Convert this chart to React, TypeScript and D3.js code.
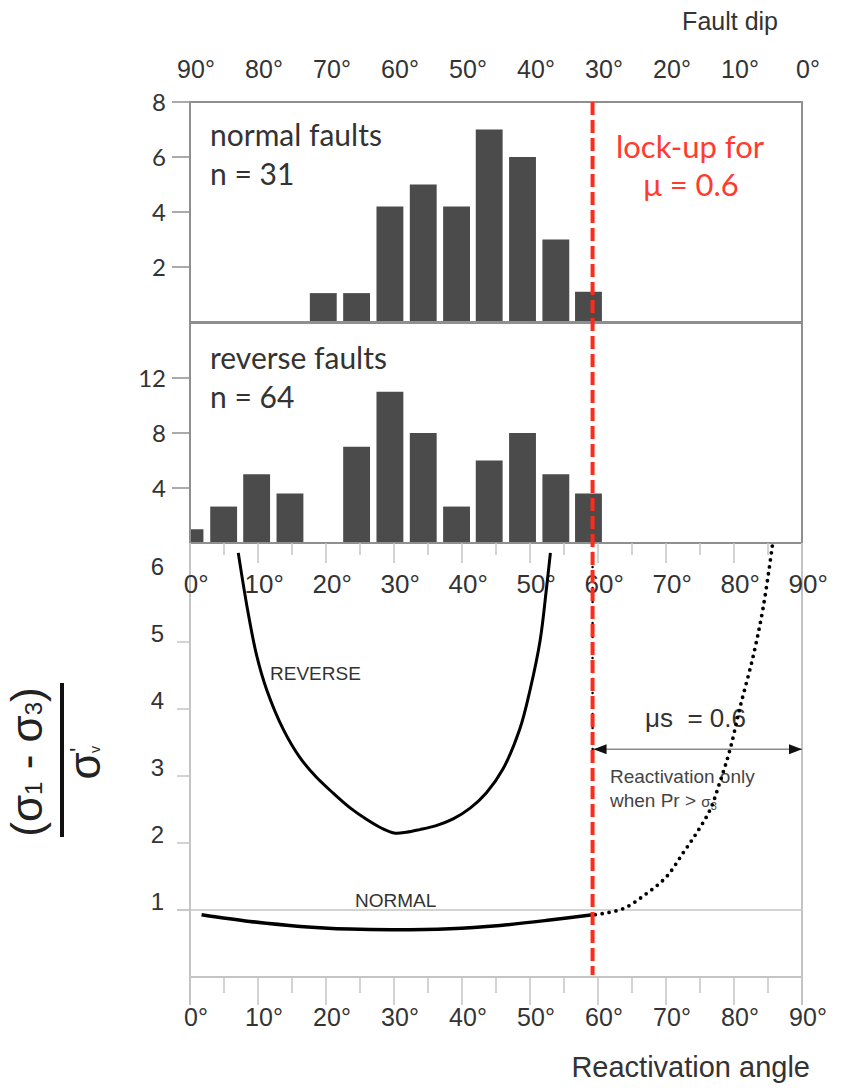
import React from "react";
import * as d3 from "d3";

// ---------- data ----------
const binCenters = [0, 4.95, 9.8, 14.7, 19.6, 24.5, 29.4, 34.3, 39.2, 44.0, 48.9, 53.8, 58.6];
const normalCounts = [0, 0, 0, 0, 1.05, 1.05, 4.2, 5, 4.2, 7, 6, 3, 1.1];
const reverseCounts = [1, 2.65, 5, 3.6, 0, 7, 11, 8, 2.65, 6, 8, 5, 3.6];
const binWidth = 3.95;

const dipTicks = [90, 80, 70, 60, 50, 40, 30, 20, 10, 0];
const angleTicks = [0, 10, 20, 30, 40, 50, 60, 70, 80, 90];
const minorAngleTicks = [5, 15, 25, 35, 45, 55, 65, 75, 85];
const normalHistTicks = [2, 4, 6, 8];
const reverseHistTicks = [4, 8, 12];
const ratioTickValues = [1, 2, 3, 4, 5];
const ratioLabelValues = [1, 2, 3, 4, 5, 6];

const reverseCurve: [number, number][] = [
  [7.1, 6.33], [8.4, 5.52], [9.8, 4.8], [11.3, 4.28], [13.7, 3.7], [16.2, 3.27],
  [18.6, 2.98], [21.1, 2.74], [23.6, 2.52], [26.0, 2.35], [28.2, 2.22], [30.0, 2.15],
  [31.8, 2.16], [33.8, 2.2], [36.2, 2.26], [38.7, 2.36], [41.2, 2.52], [43.6, 2.75],
  [46.0, 3.1], [48.5, 3.7], [50.0, 4.28], [51.5, 5.03], [52.4, 5.78], [53.0, 6.33],
];
const normalCurve: [number, number][] = [
  [1.7, 0.93], [8.8, 0.83], [16.2, 0.755], [23.5, 0.715], [30.0, 0.705], [38.2, 0.72],
  [45.6, 0.77], [52.9, 0.85], [59.2, 0.93],
];
const dottedCurve: [number, number][] = [
  [59.6, 0.93], [63.7, 1.02], [67.2, 1.25], [70.1, 1.5], [72.5, 1.85], [74.5, 2.15],
  [76.5, 2.5], [77.9, 2.9], [79.4, 3.39], [80.9, 4.03], [82.8, 4.78], [84.3, 5.52], [85.7, 6.48],
];
const lockAngle = 59.2;
const arrowLevel = 3.4;
const normalGuide = 1;

// ---------- layout ----------
const W = 846;
const H = 1088;
const ARIAL = "'Liberation Sans', Arial, Helvetica, sans-serif";
const CAL = "Lato, 'Open Sans', sans-serif";

const x = d3.scaleLinear().domain([0, 90]).range([190, 802]);
const dip = d3.scaleLinear().domain([90, 0]).range([190, 802]);
const yTop = d3.scaleLinear().domain([0, 8]).range([322, 102]);
const yMid = d3.scaleLinear().domain([0, 16]).range([543, 323]);
const yBot = d3.scaleLinear().domain([0, 6]).range([977, 575]);

function DegLabel({ px, y, val, fs }: { px: number; y: number; val: number; fs: number }) {
  const s = String(val);
  const dw = s.length * 0.556 * fs;
  return (
    <g fill="#333" fontFamily={ARIAL} fontSize={fs}>
      <text x={px + 1} y={y} textAnchor="middle">{s}</text>
      <text x={px + 1 + dw / 2} y={y}>°</text>
    </g>
  );
}

function Bars({ counts, y }: { counts: number[]; y: d3.ScaleLinear<number, number> }) {
  return (
    <g fill="#4b4b4b">
      {counts.map((c, i) => {
        if (c <= 0) return null;
        const a = Math.max(0, binCenters[i] - binWidth / 2);
        const b = binCenters[i] + binWidth / 2;
        return (
          <rect key={i} x={x(a)} y={y(c)} width={x(b) - x(a)} height={y(0) - y(c)} />
        );
      })}
    </g>
  );
}

export default function App() {
  const line = d3
    .line<[number, number]>()
    .x((d) => x(d[0]))
    .y((d) => yBot(d[1]))
    .curve(d3.curveCatmullRom.alpha(0.5));

  const xl = x(lockAngle);
  const xr = x(90);
  const ya = yBot(arrowLevel);

  return (
    <svg
      width={W}
      height={H}
      style={{ position: "absolute", left: 0, top: 0, background: "#fff" }}
    >
      {/* ---- Fault dip axis ---- */}
      <text x={778} y={30} textAnchor="end" fontFamily={ARIAL} fontSize={25} fill="#333">
        Fault dip
      </text>
      {dipTicks.map((d) => (
        <DegLabel key={"dip" + d} px={dip(d)} y={78} val={d} fs={25} />
      ))}

      {/* ---- top histogram: normal faults ---- */}
      <Bars counts={normalCounts} y={yTop} />
      <rect x={x(0)} y={yTop(8)} width={x(90) - x(0)} height={yTop(0) - yTop(8)} fill="none" stroke="#8f8f8f" strokeWidth={2} />
      {normalHistTicks.map((t) => (
        <g key={"nt" + t}>
          <line x1={172} x2={x(0)} y1={yTop(t)} y2={yTop(t)} stroke="#8f8f8f" strokeWidth={1.5} />
          <text x={166} y={yTop(t)} dy="0.36em" textAnchor="end" fontFamily={CAL} fontSize={24} fill="#333">{t}</text>
        </g>
      ))}
      <text x={210} y={146} fontFamily={CAL} fontSize={30} fill="#333">normal faults</text>
      <text x={210} y={185} fontFamily={CAL} fontSize={30} fill="#333">n = 31</text>

      {/* ---- middle histogram: reverse faults ---- */}
      <Bars counts={reverseCounts} y={yMid} />
      <rect x={x(0)} y={yMid(16)} width={x(90) - x(0)} height={yMid(0) - yMid(16)} fill="none" stroke="#8f8f8f" strokeWidth={2} />
      {reverseHistTicks.map((t) => (
        <g key={"rt" + t}>
          <line x1={172} x2={x(0)} y1={yMid(t)} y2={yMid(t)} stroke="#8f8f8f" strokeWidth={1.5} />
          <text x={166} y={yMid(t)} dy="0.36em" textAnchor="end" fontFamily={CAL} fontSize={24} fill="#333">{t}</text>
        </g>
      ))}
      <text x={210} y={369} fontFamily={CAL} fontSize={30} fill="#333">reverse faults</text>
      <text x={210} y={408} fontFamily={CAL} fontSize={30} fill="#333">n = 64</text>

      {/* lock-up label */}
      <text x={690} y={158} textAnchor="middle" fontFamily={CAL} fontSize={31} fill="#ff3b30">lock-up for</text>
      <text x={691} y={196} textAnchor="middle" fontFamily={CAL} fontSize={31} fill="#ff3b30">μ = 0.6</text>

      {/* ---- bottom panel frame ---- */}
      <line x1={x(0)} x2={x(0)} y1={yMid(0)} y2={1005} stroke="#c4c4c4" strokeWidth={2} />
      <line x1={x(90)} x2={x(90)} y1={yMid(0)} y2={1005} stroke="#c4c4c4" strokeWidth={2} />
      <line x1={x(0)} x2={x(90)} y1={yBot(0)} y2={yBot(0)} stroke="#c4c4c4" strokeWidth={2} />
      {angleTicks.map((t) => (
        <line key={"ut" + t} x1={x(t)} x2={x(t)} y1={yMid(0)} y2={yMid(0) + 20} stroke="#c4c4c4" strokeWidth={1.5} />
      ))}
      {minorAngleTicks.map((t) => (
        <line key={"um" + t} x1={x(t)} x2={x(t)} y1={yMid(0)} y2={yMid(0) + 12} stroke="#c4c4c4" strokeWidth={1.5} />
      ))}
      {angleTicks.map((t) => (
        <DegLabel key={"ul" + t} px={x(t)} y={593} val={t} fs={26} />
      ))}
      {angleTicks.map((t) => (
        <line key={"bt" + t} x1={x(t)} x2={x(t)} y1={yBot(0)} y2={yBot(0) + 28} stroke="#c4c4c4" strokeWidth={1.5} />
      ))}
      {minorAngleTicks.map((t) => (
        <line key={"bm" + t} x1={x(t)} x2={x(t)} y1={yBot(0)} y2={yBot(0) + 16} stroke="#c4c4c4" strokeWidth={1.5} />
      ))}
      {angleTicks.map((t) => (
        <DegLabel key={"bl" + t} px={x(t)} y={1026} val={t} fs={25} />
      ))}
      <text x={810} y={1077} textAnchor="end" fontFamily={ARIAL} fontSize={29} fill="#333">Reactivation angle</text>

      {ratioTickValues.map((t) => (
        <line key={"yt" + t} x1={177} x2={x(0)} y1={yBot(t)} y2={yBot(t)} stroke="#c4c4c4" strokeWidth={1.5} />
      ))}
      <line x1={177} x2={x(90)} y1={yBot(normalGuide)} y2={yBot(normalGuide)} stroke="#c4c4c4" strokeWidth={1.5} />
      {ratioLabelValues.map((t) => (
        <text key={"yl" + t} x={164} y={yBot(t)} textAnchor="end" fontFamily={ARIAL} fontSize={24} fill="#333">{t}</text>
      ))}

      {/* y axis title: (σ1 - σ3) / σ'v */}
      <g transform="translate(30,762) rotate(-90)" fontFamily={ARIAL} fill="#222">
        <text x={0} y={12} textAnchor="middle" fontSize={44}>
          (σ<tspan fontSize={24}>1</tspan> - σ<tspan fontSize={24}>3</tspan>)
        </text>
        <text x={-4} y={70} textAnchor="middle" fontSize={44}>σ</text>
        <text x={10} y={57} fontSize={24}>'</text>
        <text x={9} y={70} fontSize={14}>v</text>
      </g>
      <line x1={62} x2={62} y1={683} y2={837} stroke="#111" strokeWidth={4} />

      {/* curve labels */}
      <text x={270} y={680} fontFamily={ARIAL} fontSize={19} fill="#333">REVERSE</text>
      <text x={355} y={907} fontFamily={ARIAL} fontSize={19} fill="#333">NORMAL</text>

      {/* friction annotation */}
      <text x={645} y={727} fontFamily={ARIAL} fontSize={26} fill="#333">{"μs\u00a0\u00a0= 0.6"}</text>
      <line x1={xl} x2={xr} y1={ya} y2={ya} stroke="#8a8a8a" strokeWidth={1.5} />
      <path d={`M${xl + 1},${ya} L${xl + 14},${ya - 5} L${xl + 14},${ya + 5} Z`} fill="#111" />
      <path d={`M${xr},${ya} L${xr - 13},${ya - 5} L${xr - 13},${ya + 5} Z`} fill="#111" />
      <text x={610} y={783} fontFamily={ARIAL} fontSize={19} fill="#444">Reactivation only</text>
      <text x={610} y={807} fontFamily={ARIAL} fontSize={19} fill="#444">
        when Pr &gt; <tspan fontSize={15}>σ</tspan><tspan fontSize={11} dy={3}>3</tspan>
      </text>

      {/* curves */}
      <path d={line(reverseCurve) || ""} fill="none" stroke="#000" strokeWidth={3} />
      <path d={line(normalCurve) || ""} fill="none" stroke="#000" strokeWidth={3.5} />
      <line x1={xl} x2={xl} y1={yMid(0) + 3} y2={ya} stroke="#000" strokeWidth={2.5} strokeDasharray="0 7" strokeLinecap="round" />
      <path d={line(dottedCurve) || ""} fill="none" stroke="#000" strokeWidth={3.8} strokeDasharray="0 7" strokeLinecap="round" />

      {/* lock-up line */}
      <line x1={xl} x2={xl} y1={yTop(8)} y2={975} stroke="#ff2a1a" strokeWidth={4} strokeDasharray="13 5" />
    </svg>
  );
}
